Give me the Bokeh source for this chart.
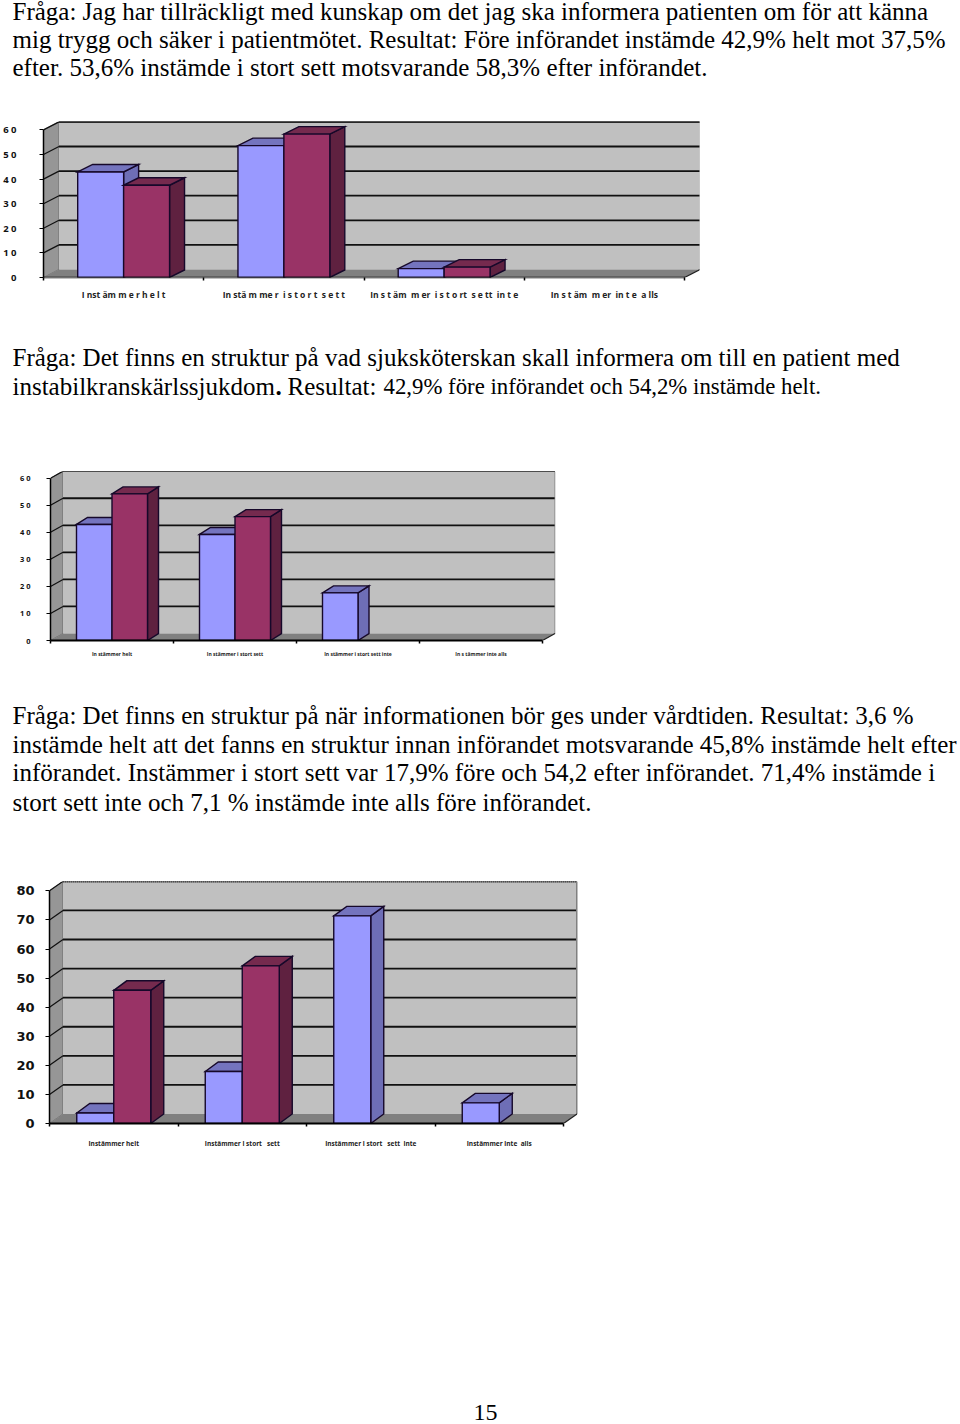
from bokeh.plotting import figure
from bokeh.layouts import column
from bokeh.models import Range1d, FixedTicker
from bokeh.core.properties import value
from bokeh.embed import file_html
from bokeh.resources import INLINE

# ---------- texts ----------
text1_lines = [
    "Fråga: Jag har tillräckligt med kunskap om det jag ska informera patienten om för att känna",
    "mig trygg och säker i patientmötet. Resultat: Före införandet instämde 42,9% helt mot 37,5%",
    "efter. 53,6% instämde i stort sett motsvarande 58,3% efter införandet.",
]
text2_lines = [
    "Fråga: Det finns en struktur på vad sjuksköterskan skall informera om till en patient med",
    "instabilkranskärlssjukdom",
]
text2_bold = ["."]
text2_result = ["Resultat:"]
text2_tail = ["42,9% före införandet och 54,2% instämde helt."]
text3_lines = [
    "Fråga: Det finns en struktur på när informationen bör ges under vårdtiden. Resultat: 3,6 %",
    "instämde helt att det fanns en struktur innan införandet motsvarande 45,8% instämde helt efter",
    "införandet. Instämmer i stort sett var 17,9% före och 54,2 efter införandet. 71,4% instämde i",
    "stort sett inte och 7,1 % instämde inte alls före införandet.",
]
page_number = ["15"]

# ---------- chart data ----------
cats1 = ["I nst äm m e r h e l t", "In stä m me r\u00a0 i s t o r t\u00a0 s e t t",
         "In s t äm\u00a0 m er\u00a0 i s t o rt\u00a0 s e tt\u00a0 in t e", "In s t äm\u00a0 m er\u00a0 in t e\u00a0 a lls"]
before1 = [42.9, 53.6, 3.6, 0]
after1 = [37.5, 58.3, 4.2, 0]
ticks1 = [0, 10, 20, 30, 40, 50, 60]
labels1 = {0: "0", 10: "1 0", 20: "2 0", 30: "3 0", 40: "4 0", 50: "5 0", 60: "6 0"}

cats2 = ["In stämmer helt", "In stämmer i stort sett",
         "In stämmer i stort sett inte", "In s tämmer inte alls"]
before2 = [42.9, 39.2, 17.6, 0]
after2 = [54.2, 45.8, 0, 0]
ticks2 = [0, 10, 20, 30, 40, 50, 60]
labels2 = labels1

cats3 = ["Instämmer helt", "Instämmer i stort\u00a0\u00a0 sett",
         "Instämmer i stort\u00a0\u00a0 sett\u00a0 inte", "Instämmer inte\u00a0 alls"]
before3 = [3.6, 17.9, 71.4, 7.1]
after3 = [45.8, 54.2, 0, 0]
ticks3 = [0, 10, 20, 30, 40, 50, 60, 70, 80]
labels3 = {0: "0", 10: "10", 20: "20", 30: "30", 40: "40", 50: "50", 60: "60", 70: "70", 80: "80"}

BLUE = ("#9999FF", "#6E6EB6", "#7474BE")
RED = ("#993366", "#5F2140", "#752A4E")
SERIF = "Liberation Serif"
PAGE_W = 960


def text_fig(lines, ys, y0, y1, size="25px", xs=None, font=SERIF):
    p = figure(width=PAGE_W, height=y1 - y0, x_range=Range1d(0, PAGE_W), y_range=Range1d(y1, y0),
               x_axis_location=None, y_axis_location=None, toolbar_location=None,
               output_backend="svg", min_border=0, outline_line_color=None, frame_align=False)
    p.grid.visible = False
    p.text(x=xs or [12] * len(lines), y=ys, text=lines, text_font=value(font), text_font_size=value(size),
           text_color="#000000", text_baseline="middle")
    return p


def chart(cats, before, after, ticks, labels, box, frame, cat_px, unit_px, wall, bar_w, bar_d,
          tick_font, tick_size, tick_standoff, cat_font_size, cat_standoff,
          bottom_dash="solid", top_dash="solid", right_dash="solid", right_col="#808080"):
    y0, y1 = box
    left, right, top, bottom = frame
    p = figure(width=PAGE_W, height=y1 - y0, toolbar_location=None, output_backend="svg",
               x_range=Range1d(0, (right - left) / cat_px), y_range=Range1d(0, (bottom - top) / unit_px),
               min_border_left=left, min_border_right=PAGE_W - right,
               min_border_top=top - y0, min_border_bottom=y1 - bottom,
               outline_line_color=None, background_fill_color="white", border_fill_color="white",
               frame_align=False)
    p.grid.visible = False
    n = len(cats)
    wx, wy = wall[0] / cat_px, wall[1] / unit_px
    ymax = ticks[-1]
    # walls and floor
    p.patch([0, wx, wx, 0], [0, wy, ymax + wy, ymax], fill_color="#969696", line_color="#606060", line_width=0.8)
    p.patch([wx, n + wx, n + wx, wx], [wy, wy, ymax + wy, ymax + wy], fill_color="#C0C0C0", line_color=None)
    p.patch([0, wx, n + wx, n], [0, wy, wy, 0], fill_color="#808080", line_color=None)
    # gridlines
    grid = ticks[1:]
    p.multi_line([[wx, n + wx] for _ in grid], [[t + wy, t + wy] for t in grid], line_color="#101010", line_width=1.8)
    p.multi_line([[0, wx] for _ in grid], [[t, t + wy] for t in grid], line_color="#101010", line_width=1.2)
    p.line([wx, n + wx], [ymax + wy, ymax + wy], line_color="#202020", line_width=1.6, line_dash=top_dash)
    p.line([n + wx, n + wx], [wy, ymax + wy], line_color=right_col, line_width=2, line_dash=right_dash)
    p.line([n, n + wx], [0, wy], line_color="#202020", line_width=1.2)
    # bars
    bw, dx, dy = bar_w / cat_px, bar_d[0] / cat_px, bar_d[1] / unit_px
    for i in range(n):
        for j, (vals, cols) in enumerate(((before, BLUE), (after, RED))):
            v = vals[i]
            if v <= 0:
                continue
            x0 = i + 0.5 - bw + j * bw
            x1 = x0 + bw
            kw = dict(line_color="#16082a", line_width=1.4, line_join="miter")
            p.patch([x1, x1 + dx, x1 + dx, x1], [0, dy, v + dy, v], fill_color=cols[1], **kw)
            p.patch([x0, x0 + dx, x1 + dx, x1], [v, v + dy, v + dy, v], fill_color=cols[2], **kw)
            p.patch([x0, x1, x1, x0], [0, 0, v, v], fill_color=cols[0], **kw)
    # axes
    ya = p.yaxis[0]
    ya.ticker = FixedTicker(ticks=ticks)
    ya.bounds = (0, ymax)
    ya.major_label_overrides = labels
    ya.major_label_text_font = tick_font
    ya.major_label_text_font_style = "bold"
    ya.major_label_text_font_size = tick_size
    ya.major_label_text_color = "#111111"
    ya.major_label_standoff = tick_standoff
    ya.major_tick_out = 4
    ya.major_tick_in = 0
    ya.minor_tick_out = 0
    ya.minor_tick_in = 0
    ya.major_tick_line_color = "#000000"
    ya.axis_line_color = "#000000"
    ya.axis_line_width = 1.5
    xa = p.xaxis[0]
    centers = [i + 0.5 for i in range(n)]
    xa.ticker = FixedTicker(ticks=centers, minor_ticks=list(range(n + 1)))
    xa.bounds = (0, n)
    xa.major_label_overrides = {c: t for c, t in zip(centers, cats)}
    xa.major_label_text_font = "Open Sans"
    xa.major_label_text_font_style = "bold"
    xa.major_label_text_font_size = cat_font_size
    xa.major_label_text_color = "#222222"
    xa.major_label_standoff = cat_standoff
    xa.major_tick_in = 0
    xa.major_tick_out = 0
    xa.minor_tick_in = 0
    xa.minor_tick_out = 3
    xa.minor_tick_line_color = "#000000"
    xa.minor_tick_line_width = 1.5
    xa.axis_line_color = "#000000"
    xa.axis_line_width = 2
    xa.axis_line_dash = bottom_dash
    return p


t1 = text_fig(text1_lines, [11, 39, 67], 0, 110)
c1 = chart(cats1, before1, after1, ticks1, labels1, (110, 305), (42, 699, 121, 277), 160.5, 2.46,
           (15.5, 8), 46, (15, 7.5), "Open Sans", "9.5px", 23, "8.5px", 8,
           bottom_dash="1 1", right_dash="1 1")
t2 = text_fig(text2_lines, [357, 386], 305, 460)
t2.text(x=[275], y=[386], text=text2_bold, text_font=value(SERIF), text_font_size=value("25px"),
        text_font_style="bold", text_baseline="middle")
t2.text(x=[287], y=[386], text=text2_result, text_font=value(SERIF), text_font_size=value("25px"),
        text_baseline="middle")
t2.text(x=[383], y=[386], text=text2_tail, text_font=value(SERIF), text_font_size=value("22.8px"),
        text_baseline="middle")
c2 = chart(cats2, before2, after2, ticks2, labels2, (460, 665), (50, 555, 471, 640), 123, 2.705,
           (12.5, 7), 35.5, (11, 7), "Open Sans", "7.5px", 16, "5px", 7, right_dash="1 1")
t3 = text_fig(text3_lines, [715, 744, 772, 802], 665, 870)
c3 = chart(cats3, before3, after3, ticks3, labels3, (870, 1160), (49, 577, 881, 1123), 128.5, 2.908,
           (13.5, 9.5), 37, (13, 9.5), "DejaVu Sans", "13px", 11, "6.5px", 12, top_dash="1 1")
t4 = text_fig(page_number, [1412], 1160, 1424, size="24px", xs=[473])

page = column(t1, c1, t2, c2, t3, c3, t4, spacing=0, margin=0)
open("out.html", "w").write(file_html(page, INLINE))
